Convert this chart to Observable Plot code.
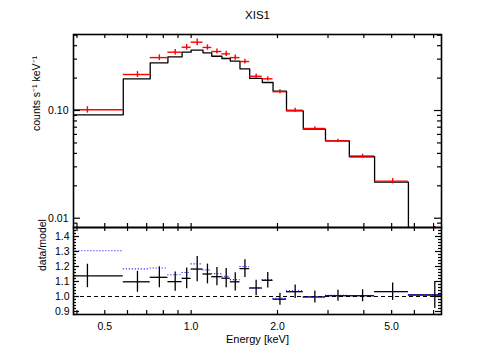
<!DOCTYPE html>
<html><head><meta charset="utf-8">
<script src="https://cdn.jsdelivr.net/npm/d3@7"></script>
<script src="https://cdn.jsdelivr.net/npm/@observablehq/plot@0.6"></script>
<style>
html,body{margin:0;padding:0;background:#fff;}
#chart{position:relative;width:491px;height:350px;overflow:hidden;background:#fff;}
#chart svg{position:absolute;left:0;}
</style></head><body><div id="chart"></div>
<script>
// Energy bins (keV)
const binLo = [0.29, 0.58, 0.72, 0.83, 0.93, 1.00, 1.10, 1.18, 1.28, 1.37, 1.48, 1.60, 1.77, 1.93, 2.15, 2.46, 2.94, 3.56, 4.36, 5.72];
const binHi = [0.58, 0.72, 0.83, 0.93, 1.00, 1.10, 1.18, 1.28, 1.37, 1.48, 1.60, 1.77, 1.93, 2.15, 2.46, 2.94, 3.56, 4.36, 5.72, 8.42];
// counts s^-1 keV^-1
const dataRate  = [0.1015, 0.216, 0.310, 0.348, 0.387, 0.431, 0.385, 0.353, 0.336, 0.310, 0.285, 0.208, 0.197, 0.1495, 0.1006, 0.0681, 0.0523, 0.0378, 0.0221, 0.0077];
const modelRate = [0.0912, 0.197, 0.277, 0.315, 0.348, 0.363, 0.343, 0.319, 0.304, 0.287, 0.244, 0.199, 0.182, 0.1517, 0.0993, 0.0671, 0.0523, 0.0372, 0.0216, 0.0076];
// data/model
const ratio    = [1.137, 1.098, 1.128, 1.099, 1.121, 1.183, 1.150, 1.132, 1.122, 1.098, 1.186, 1.057, 1.108, 0.982, 1.032, 0.997, 1.005, 1.005, 1.032, 1.010];
const ratioErr = [0.078, 0.070, 0.070, 0.064, 0.069, 0.084, 0.066, 0.061, 0.064, 0.061, 0.059, 0.052, 0.052, 0.040, 0.045, 0.040, 0.037, 0.040, 0.058, 0.090];
const ratioAlt = [1.305, 1.184, 1.190, 1.145, 1.160, 1.217, 1.177, 1.152, 1.134, 1.112, 1.200, 1.055, 1.112, 0.988, 1.037, 0.997, 1.008, 1.005, 1.032, 1.012];
// ticks
const xTickLabels = [0.5, 1, 2, 5];
const xTicksAll = [0.4, 0.5, 0.6, 0.7, 0.8, 0.9, 1, 2, 3, 4, 5, 6, 7];
const yTopMajor = [0.01, 0.1];
const yTopMinor = [0.009, 0.02, 0.03, 0.04, 0.05, 0.06, 0.07, 0.08, 0.09, 0.2, 0.3, 0.4, 0.5];
const yBotMajor = [0.9, 1.0, 1.1, 1.2, 1.3, 1.4];
const yBotMinor = [0.88, 0.92, 0.94, 0.96, 0.98, 1.02, 1.04, 1.06, 1.08, 1.12, 1.14, 1.16, 1.18, 1.22, 1.24, 1.26, 1.28, 1.32, 1.34, 1.36, 1.38, 1.42, 1.44];
const xDomain = [0.389, 7.46];
const yTopDomain = [0.0082, 0.508];
const yBotDomain = [0.88, 1.46];

const FONT = '"Liberation Sans", Arial, Helvetica, sans-serif';
const W = 491, mL = 73, mR = 50;
const fw = W - mL - mR;

const bins = binLo.map((lo, i) => ({
  lo, hi: binHi[i], mid: (lo + binHi[i]) / 2,
  data: dataRate[i], model: modelRate[i],
  err: dataRate[i] * ratioErr[i] / ratio[i],
  ratio: ratio[i], rerr: ratioErr[i], alt: ratioAlt[i]
}));
const stepPts = bins.flatMap(b => [{e: b.lo, v: b.model}, {e: b.hi, v: b.model}]);

const tk = {stroke: "black", strokeWidth: 1.2};
function frameTicks(fh, yMajor, yMinor, majLen, minLen, xLen) {
  return [
    Plot.tickY(yMajor, {y: d => d, insetRight: fw - majLen, ...tk}),
    Plot.tickY(yMajor, {y: d => d, insetLeft: fw - majLen, ...tk}),
    Plot.tickY(yMinor, {y: d => d, insetRight: fw - minLen, ...tk}),
    Plot.tickY(yMinor, {y: d => d, insetLeft: fw - minLen, ...tk}),
    Plot.tickX(xTicksAll, {x: d => d, insetBottom: fh - xLen, ...tk}),
    Plot.tickX(xTicksAll, {x: d => d, insetTop: fh - xLen, ...tk})
  ];
}

// Top panel
const hTop = 228, mTopT = 34, mTopB = 1;
const topPlot = Plot.plot({
  width: W, height: hTop, marginTop: mTopT, marginBottom: mTopB, marginLeft: mL, marginRight: mR,
  style: {background: "transparent", fontFamily: FONT, fontSize: "10.5px", overflow: "visible", color: "black"},
  x: {type: "log", domain: xDomain, axis: null},
  y: {type: "log", domain: yTopDomain},
  marks: [
    Plot.line(stepPts, {x: "e", y: "v", stroke: "black", strokeWidth: 1.3, clip: true}),
    Plot.ruleY(bins, {x1: "lo", x2: "hi", y: "data", stroke: "#ff0000", strokeWidth: 1.4, clip: true}),
    Plot.ruleX(bins, {x: "mid", y1: d => d.data - d.err, y2: d => d.data + d.err, stroke: "#ff0000", strokeWidth: 1.4, clip: true}),
    ...frameTicks(hTop - mTopT - mTopB, yTopMajor, yTopMinor, 7, 4, 4),
    Plot.frame({stroke: "black", strokeWidth: 1.6}),
    Plot.axisY({ticks: yTopMajor, tickSize: 0, tickPadding: 5, tickFormat: d => d.toFixed(2), label: null, fontSize: 10.5}),
    Plot.text(["counts s⁻¹ keV⁻¹"], {text: d => d, frameAnchor: "left", dx: -37, rotate: -90, fontSize: 10.5, fill: "black"}),
    Plot.text(["XIS1"], {text: d => d, frameAnchor: "top", dy: -24, fontSize: 11.5, fill: "black"})
  ]
});

// Bottom panel
const hBot = 124, mBotT = 1, mBotB = 36;
const botPlot = Plot.plot({
  width: W, height: hBot, marginTop: mBotT, marginBottom: mBotB, marginLeft: mL, marginRight: mR,
  style: {background: "transparent", fontFamily: FONT, fontSize: "10.5px", overflow: "visible", color: "black"},
  x: {type: "log", domain: xDomain},
  y: {domain: yBotDomain},
  marks: [
    Plot.ruleY([1], {y: d => d, stroke: "black", strokeDasharray: "4,3", strokeWidth: 1.2}),
    Plot.ruleY(bins, {x1: "lo", x2: "hi", y: "ratio", stroke: "black", strokeWidth: 1.3, clip: true}),
    Plot.ruleX(bins, {x: "mid", y1: d => d.ratio - d.rerr, y2: d => d.ratio + d.rerr, stroke: "black", strokeWidth: 1.3, clip: true}),
    Plot.ruleY(bins, {x1: "lo", x2: "hi", y: "alt", stroke: "#0000ff", strokeDasharray: "1,2", strokeWidth: 1.2, clip: true}),
    ...frameTicks(hBot - mBotT - mBotB, yBotMajor, yBotMinor, 6, 3, 4),
    Plot.frame({stroke: "black", strokeWidth: 1.6}),
    Plot.axisY({ticks: yBotMajor, tickSize: 0, tickPadding: 4, tickFormat: d => d.toFixed(1), label: null, fontSize: 10.5}),
    Plot.axisX({ticks: xTickLabels, tickSize: 0, tickPadding: 8, tickFormat: d => d.toFixed(1), label: null, fontSize: 10.5}),
    Plot.text(["data/model"], {text: d => d, frameAnchor: "left", dx: -31, rotate: -90, fontSize: 10.5, fill: "black"}),
    Plot.text(["Energy [keV]"], {text: d => d, frameAnchor: "bottom", dy: 28, fontSize: 11, fill: "black"})
  ]
});

const chart = document.getElementById("chart");
topPlot.style.top = "0px";
botPlot.style.top = "226px";
chart.appendChild(topPlot);
chart.appendChild(botPlot);
</script>
</body></html>
